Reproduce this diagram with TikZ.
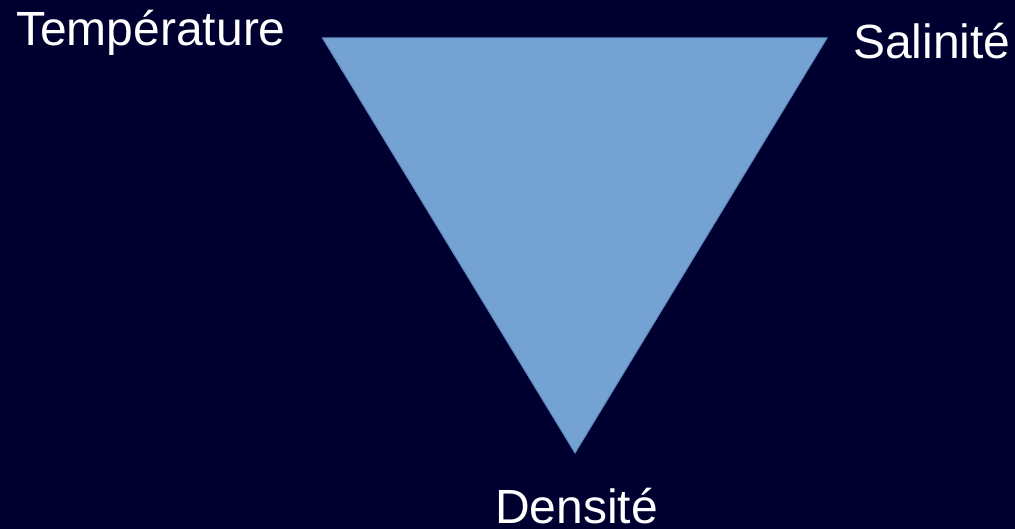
\documentclass[tikz,border=0pt]{standalone}
\usepackage{fontspec}
\setmainfont{Liberation Sans}
\definecolor{bg}{RGB}{0,0,48}
\definecolor{trifill}{RGB}{116,163,211}
\definecolor{triedge}{RGB}{96,136,190}
\begin{document}
\begin{tikzpicture}[x=1pt,y=-1pt,
  lbl/.style={text=white,inner sep=0pt,anchor=base west,font=\fontsize{48}{52}\selectfont}]
\fill[bg] (0,0) rectangle (1015,529);
\useasboundingbox (0,0) rectangle (1015,529);
\coordinate (tl) at (322.5,38);
\coordinate (tr) at (827,38);
\coordinate (bt) at (575,453);
\filldraw[fill=trifill,draw=triedge,line width=1pt,line join=miter] (tl) -- (tr) -- (bt) -- cycle;
\node[lbl] (temp) at (16,45.5) {Température};
\node[lbl] (sal) at (853,59) {Salinité};
\node[lbl] (dens) at (495,523.5) {Densité};
\end{tikzpicture}
\end{document}
